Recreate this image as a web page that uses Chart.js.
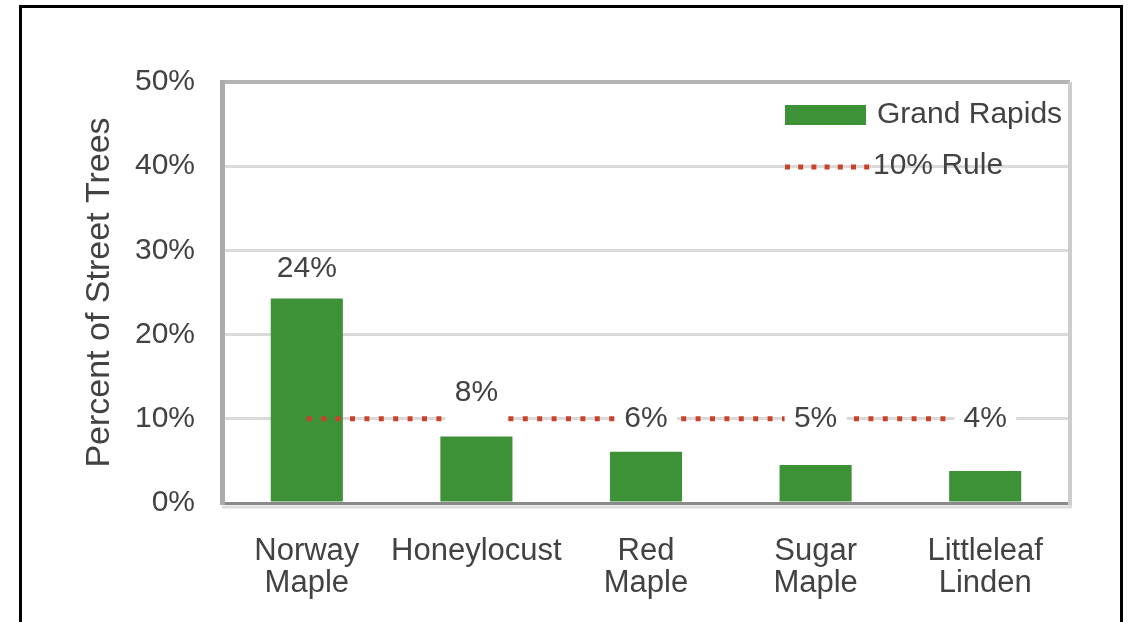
<!DOCTYPE html>
<html>
<head>
<meta charset="utf-8">
<script src="https://cdn.jsdelivr.net/npm/chart.js@4/dist/chart.umd.min.js"></script>
<style>
  html, body { margin: 0; padding: 0; background: #fff; overflow: hidden; }
  #wrap { position: relative; width: 1129px; height: 622px; }
  #frame { position: absolute; left: 19px; top: 5px; width: 1104px; height: 700px;
           border: 3px solid #000; box-sizing: border-box; pointer-events: none; }
</style>
</head>
<body>
<div id="wrap">
  <canvas id="myChart" width="1129" height="622"></canvas>
  <div id="frame"></div>
</div>
<script>
// values
const categories = [['Norway', 'Maple'], 'Honeylocust', ['Red', 'Maple'], ['Sugar', 'Maple'], ['Littleleaf', 'Linden']];
const grandRapids = [24.3, 7.9, 6.1, 4.5, 3.8];
const valueLabels = ['24%', '8%', '6%', '5%', '4%'];
const tenPercentRule = [10, 10, 10, 10, 10];
const yTicks = [0, 10, 20, 30, 40, 50];

// where each value label sits (in axis units)
const labelLevel = [27.8, 13.1, 10, 10, 10];

const GREEN = '#3d9238';
const RED = '#c9432b';
const TEXT = '#424242';
const FONT = 'Liberation Sans, Arial, sans-serif';

const extras = {
    id: 'extras',
    beforeDatasetsDraw(chart) {
        const { ctx, chartArea: a } = chart;
        ctx.save();
        // frame round the plot
        ctx.strokeStyle = '#cccccc';
        ctx.lineWidth = 4;
        ctx.beginPath();
        ctx.moveTo(a.right, a.top);
        ctx.lineTo(a.right, a.bottom + 4);
        ctx.stroke();
        ctx.strokeStyle = '#dedede';
        ctx.lineWidth = 3;
        ctx.beginPath();
        ctx.moveTo(a.left, a.bottom + 4);
        ctx.lineTo(a.right + 2, a.bottom + 4);
        ctx.stroke();
        ctx.restore();
    },
    afterDatasetsDraw(chart) {
        const { ctx, chartArea: a, scales } = chart;
        const x = scales.x, y = scales.y;
        ctx.save();
        ctx.font = '30px ' + FONT;
        ctx.textAlign = 'center';
        ctx.textBaseline = 'middle';
        valueLabels.forEach((txt, i) => {
            const cx = x.getPixelForValue(i);
            if (i > 0) {
                ctx.fillStyle = '#fff';
                ctx.fillRect(cx - 31, y.getPixelForValue(10) - 8, 62, 16);
            }
            ctx.fillStyle = TEXT;
            ctx.fillText(txt, cx, y.getPixelForValue(labelLevel[i]));
        });

        // legend, top right inside the plot
        const lx = a.right - 285;
        ctx.fillStyle = GREEN;
        ctx.fillRect(lx, a.top + 23, 81, 20);
        ctx.fillStyle = TEXT;
        ctx.textAlign = 'left';
        ctx.fillText('Grand Rapids', lx + 92, a.top + 33);
        ctx.strokeStyle = RED;
        ctx.lineWidth = 5;
        ctx.setLineDash([5, 8.2]);
        ctx.beginPath();
        ctx.moveTo(lx, a.top + 85);
        ctx.lineTo(lx + 86, a.top + 85);
        ctx.stroke();
        ctx.setLineDash([]);
        ctx.fillText('10% Rule', lx + 88, a.top + 84);
        ctx.restore();
    }
};

const renderChart = () => {
    const ctx = document.getElementById('myChart').getContext('2d');

    new Chart(ctx, {
        data: {
            labels: categories,
            datasets: [{
                type: 'line',
                label: '10% Rule',
                data: tenPercentRule,
                borderColor: RED,
                borderWidth: 5,
                borderDash: [5, 9.4],
                pointRadius: 0,
                fill: false,
                order: 0
            }, {
                type: 'bar',
                label: 'Grand Rapids',
                data: grandRapids,
                backgroundColor: GREEN,
                barPercentage: 0.425,
                categoryPercentage: 1,
                order: 1
            }]
        },
        options: {
            responsive: false,
            animation: false,
            layout: { padding: { top: 82, right: 59, left: 0, bottom: 0 } },
            plugins: {
                legend: { display: false },
                tooltip: { enabled: false }
            },
            scales: {
                x: {
                    grid: { display: false },
                    border: { color: '#8a8a8a', width: 3 },
                    ticks: {
                        color: TEXT,
                        padding: 24,
                        autoSkip: false,
                        maxRotation: 0,
                        font: { family: FONT, size: 31, lineHeight: 1.04 }
                    },
                    afterFit(scale) { scale.height = 119; }
                },
                y: {
                    min: 0,
                    max: 50,
                    afterBuildTicks(scale) { scale.ticks = yTicks.map(v => ({ value: v })); },
                    grid: {
                        drawTicks: false,
                        color: c => c.tick && c.tick.value === 50 ? '#b4b4b4' : '#dadada',
                        lineWidth: c => c.tick && c.tick.value === 50 ? 4 : 3
                    },
                    border: { color: '#ababab', width: 5 },
                    ticks: {
                        color: TEXT,
                        padding: 27,
                        font: { family: FONT, size: 30 },
                        callback: v => v + '%'
                    },
                    title: {
                        display: true,
                        text: 'Percent of Street Trees',
                        color: TEXT,
                        padding: { top: 79, bottom: 0 },
                        font: { family: FONT, size: 34 }
                    },
                    afterFit(scale) { scale.width = 222; }
                }
            }
        },
        plugins: [extras]
    });
};

document.addEventListener('DOMContentLoaded', renderChart);
</script>
</body>
</html>
